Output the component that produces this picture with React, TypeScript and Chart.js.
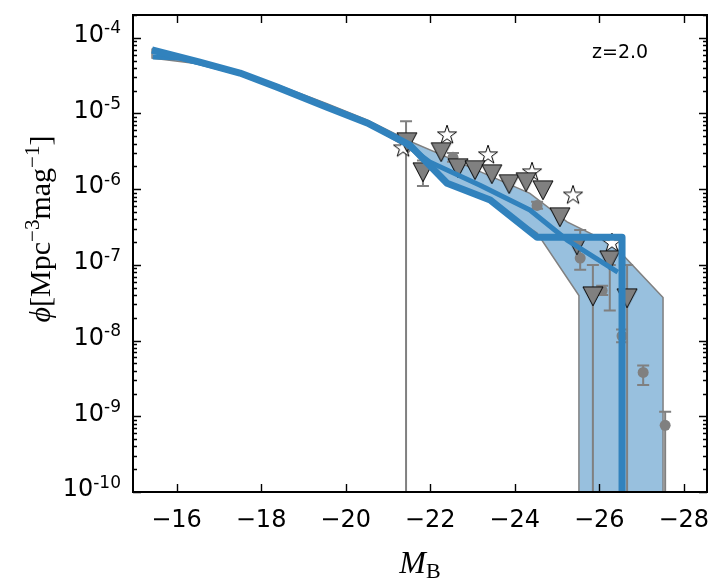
import React, { useEffect, useRef } from 'react';
import { Chart, registerables } from 'chart.js';

Chart.register(...registerables);

const WIDTH = 727;
const HEIGHT = 580;

// Best-fit luminosity function (thick line), absolute magnitude vs number density
const fitMag = [-15.42, -16.55, -17.5, -18.38, -19.56, -20.51, -21.52, -22.4, -23.42, -24.53, -26.54, -26.54];
const fitPhi = [6.9e-5, 4.78e-5, 3.42e-5, 2.23e-5, 1.21e-5, 7.5e-6, 3.82e-6, 1.2e-6, 7.2e-7, 2.32e-7, 2.32e-7, 1e-10];

// Model luminosity function (thinner line)
const modelMag = [-15.44, -16.08, -17.5, -18.38, -19.56, -20.51, -21.29, -21.99, -23.18, -24.36, -25.24, -26.44];
const modelPhi = [5.56e-5, 5.4e-5, 3.42e-5, 2.23e-5, 1.21e-5, 7.5e-6, 4.45e-6, 2.28e-6, 1.13e-6, 5.3e-7, 2.13e-7, 8.0e-8];

// Uncertainty band: upper edge (bright to faint), lower edge (bright to faint)
const bandUpperMag = [-15.42, -16.55, -17.5, -18.38, -19.56, -20.51, -21.52, -22.3, -24.36, -25.24, -26.33, -27.51, -27.51];
const bandUpperPhi = [7.2e-5, 5.0e-5, 3.6e-5, 2.4e-5, 1.35e-5, 8.2e-6, 4.3e-6, 2.8e-6, 8.8e-7, 3.7e-7, 1.85e-7, 3.7e-8, 1e-10];
const bandLowerMag = [-15.42, -16.55, -17.5, -18.38, -19.56, -20.51, -21.52, -22.4, -23.42, -24.53, -25.52, -25.52];
const bandLowerPhi = [5.4e-5, 4.5e-5, 3.2e-5, 2.1e-5, 1.15e-5, 7.2e-6, 3.4e-6, 1.15e-6, 6.8e-7, 2.63e-7, 3.94e-8, 1e-10];

// Binned measurements (grey circles) with error bars
const circleMag = [-21.43, -22.54, -24.53, -25.55, -26.07, -26.54, -27.04, -27.56];
const circlePhi = [3.5e-6, 2.64e-6, 6.1e-7, 1.23e-7, 4.6e-8, 1.15e-8, 3.8e-9, 7.6e-10];
const circleLo = [1e-11, 2.3e-6, 5.5e-7, 8.6e-8, 4.0e-8, 9.5e-9, 2.6e-9, 1e-11];
const circleHi = [7.9e-6, 3.0e-6, 6.8e-7, 2.9e-7, 5.3e-8, 1.4e-8, 4.7e-9, 1.15e-9];

// Binned measurements (grey triangles)
const triMag = [-21.45, -21.83, -22.26, -22.66, -23.06, -23.46, -23.87, -24.27, -24.67, -25.07, -25.47, -25.85, -26.25, -26.66];
const triPhi = [4.19e-6, 1.68e-6, 3.09e-6, 1.9e-6, 1.79e-6, 1.58e-6, 1.17e-6, 1.24e-6, 9.7e-7, 4.27e-7, 1.82e-7, 3.85e-8, 1.15e-7, 3.63e-8];
const triLo: (number | null)[] = [null, 1.1e-6, null, null, null, null, null, null, null, null, null, 1e-11, 2.5e-8, 1e-11];
const triHi: (number | null)[] = [null, 2.4e-6, null, null, null, null, null, null, null, null, null, 1.0e-7, 1.0e-7, 1.0e-7];

// Binned measurements (open stars)
const starMag = [-21.36, -22.4, -23.37, -24.41, -25.38, -26.3];
const starPhi = [3.48e-6, 5.18e-6, 2.82e-6, 1.68e-6, 8.3e-7, 1.94e-7];

const xTicks = [-16, -18, -20, -22, -24, -26, -28];
const yDecades = [-10, -9, -8, -7, -6, -5, -4];
const redshiftLabel = 'z=2.0';

const BLUE = '#3182bd';
const BAND = 'rgba(49,130,189,0.5)';
const GREY = '#808080';
const SANS = '"DejaVu Sans", sans-serif';
const SERIF = '"Liberation Serif", "DejaVu Serif", serif';

const BAND_INDEX = 5;

const pts = (mag: number[], phi: number[]) => mag.map((m, i) => ({ x: m, y: phi[i] }));

function bandPolygon() {
  const up = pts(bandUpperMag, bandUpperPhi);
  const lo = pts(bandLowerMag, bandLowerPhi).reverse();
  return [...up, ...lo, up[0]];
}

function triangleMarker(): HTMLCanvasElement {
  const c = document.createElement('canvas');
  c.width = 22;
  c.height = 21;
  const g = c.getContext('2d')!;
  g.beginPath();
  g.moveTo(1, 1);
  g.lineTo(21, 1);
  g.lineTo(11, 20);
  g.closePath();
  g.fillStyle = GREY;
  g.fill();
  g.lineWidth = 1;
  g.strokeStyle = '#000';
  g.stroke();
  return c;
}

function starMarker(): HTMLCanvasElement {
  const c = document.createElement('canvas');
  c.width = 22;
  c.height = 22;
  const g = c.getContext('2d')!;
  const R = 10;
  const r = R * 0.382;
  g.beginPath();
  for (let k = 0; k < 10; k++) {
    const rad = k % 2 === 0 ? R : r;
    const ang = -Math.PI / 2 + (k * Math.PI) / 5;
    const px = 11 + rad * Math.cos(ang);
    const py = 11 + rad * Math.sin(ang);
    if (k === 0) g.moveTo(px, py);
    else g.lineTo(px, py);
  }
  g.closePath();
  g.fillStyle = '#fff';
  g.fill();
  g.lineWidth = 1;
  g.strokeStyle = '#000';
  g.stroke();
  return c;
}

type Part = { t: string; font: string; dy: number };

function measureParts(ctx: CanvasRenderingContext2D, parts: Part[]) {
  let w = 0;
  for (const p of parts) {
    ctx.font = p.font;
    w += ctx.measureText(p.t).width;
  }
  return w;
}

function drawParts(ctx: CanvasRenderingContext2D, parts: Part[], x: number, y: number) {
  let cx = x;
  ctx.textAlign = 'left';
  ctx.textBaseline = 'alphabetic';
  for (const p of parts) {
    ctx.font = p.font;
    ctx.fillText(p.t, cx, y + p.dy);
    cx += ctx.measureText(p.t).width;
  }
}

const errorBars = {
  id: 'errorBars',
  afterDatasetDraw(chart: any, args: any) {
    if (args.index !== BAND_INDEX) return;
    const { ctx, chartArea: a } = chart;
    const xs = chart.scales.x;
    const ys = chart.scales.y;
    ctx.save();
    ctx.beginPath();
    ctx.rect(a.left, a.top, a.right - a.left, a.bottom - a.top);
    ctx.clip();
    ctx.strokeStyle = GREY;
    ctx.lineWidth = 2;
    const bar = (m: number, lo: number | null, hi: number | null) => {
      if (lo == null || hi == null) return;
      const px = xs.getPixelForValue(m);
      const y0 = ys.getPixelForValue(lo);
      const y1 = ys.getPixelForValue(hi);
      ctx.beginPath();
      ctx.moveTo(px, y0);
      ctx.lineTo(px, y1);
      ctx.moveTo(px - 6, y0);
      ctx.lineTo(px + 6, y0);
      ctx.moveTo(px - 6, y1);
      ctx.lineTo(px + 6, y1);
      ctx.stroke();
    };
    circleMag.forEach((m, i) => bar(m, circleLo[i], circleHi[i]));
    triMag.forEach((m, i) => bar(m, triLo[i], triHi[i]));
    ctx.restore();
  },
};

const frame = {
  id: 'frame',
  afterDraw(chart: any) {
    const { ctx, chartArea: a } = chart;
    const xs = chart.scales.x;
    const ys = chart.scales.y;
    ctx.save();
    ctx.strokeStyle = '#000';
    ctx.fillStyle = '#000';

    // ticks pointing inward on all four sides
    ctx.lineWidth = 1.4;
    ctx.beginPath();
    for (const t of xTicks) {
      const px = Math.round(xs.getPixelForValue(t)) + 0.5;
      ctx.moveTo(px, a.bottom);
      ctx.lineTo(px, a.bottom - 8);
      ctx.moveTo(px, a.top);
      ctx.lineTo(px, a.top + 8);
    }
    for (const e of yDecades) {
      const py = Math.round(ys.getPixelForValue(Math.pow(10, e))) + 0.5;
      ctx.moveTo(a.left, py);
      ctx.lineTo(a.left + 8, py);
      ctx.moveTo(a.right, py);
      ctx.lineTo(a.right - 8, py);
      for (let k = 2; k <= 9; k++) {
        const v = k * Math.pow(10, e);
        if (v > ys.max) continue;
        const pm = Math.round(ys.getPixelForValue(v)) + 0.5;
        ctx.moveTo(a.left, pm);
        ctx.lineTo(a.left + 4, pm);
        ctx.moveTo(a.right, pm);
        ctx.lineTo(a.right - 4, pm);
      }
    }
    ctx.stroke();

    // spines
    ctx.lineWidth = 2;
    ctx.strokeRect(a.left, a.top, a.right - a.left, a.bottom - a.top);

    // x tick labels
    ctx.font = `24px ${SANS}`;
    ctx.textAlign = 'center';
    ctx.textBaseline = 'alphabetic';
    for (const t of xTicks) {
      const px = xs.getPixelForValue(t);
      ctx.fillText('\u2212' + Math.abs(t), px, 527);
    }

    // y tick labels: 10 with a raised exponent
    for (const e of yDecades) {
      const py = ys.getPixelForValue(Math.pow(10, e));
      const parts: Part[] = [
        { t: '10', font: `24px ${SANS}`, dy: 0 },
        { t: '-' + Math.abs(e), font: `17px ${SANS}`, dy: -8.6 },
      ];
      const w = measureParts(ctx, parts);
      drawParts(ctx, parts, 121 - w, py + 4.3);
    }

    // x axis title
    const xt: Part[] = [
      { t: 'M', font: `italic 32px ${SERIF}`, dy: 0 },
      { t: 'B', font: `22px ${SERIF}`, dy: 5 },
    ];
    const xw = measureParts(ctx, xt);
    drawParts(ctx, xt, (a.left + a.right) / 2 - xw / 2, 573);

    // y axis title, rotated
    ctx.save();
    ctx.translate(50, 229);
    ctx.rotate(-Math.PI / 2);
    const yt: Part[] = [
      { t: '\u03d5', font: `italic 30px ${SERIF}`, dy: 0 },
      { t: '[Mpc', font: `30px ${SERIF}`, dy: 0 },
      { t: '\u22123', font: `21px ${SERIF}`, dy: -11 },
      { t: 'mag', font: `30px ${SERIF}`, dy: 0 },
      { t: '\u22121', font: `21px ${SERIF}`, dy: -11 },
      { t: ']', font: `30px ${SERIF}`, dy: 0 },
    ];
    const yw = measureParts(ctx, yt);
    drawParts(ctx, yt, -yw / 2, 0);
    ctx.restore();

    // redshift tag
    ctx.font = `19px ${SANS}`;
    ctx.textAlign = 'left';
    ctx.fillText(redshiftLabel, 592, 58);

    ctx.restore();
  },
};

export default function App() {
  const ref = useRef<HTMLCanvasElement | null>(null);

  useEffect(() => {
    const canvas = ref.current;
    if (!canvas) return;
    const tri = triangleMarker();
    const star = starMarker();
    const chart = new Chart(canvas, {
      type: 'line',
      data: {
        datasets: [
          {
            label: 'fit',
            data: pts(fitMag, fitPhi),
            borderColor: BLUE,
            borderWidth: 7,
            borderJoinStyle: 'round',
            borderCapStyle: 'butt',
            pointRadius: 0,
            fill: false,
            tension: 0,
            order: 0,
            clip: 0,
          },
          {
            label: 'model',
            data: pts(modelMag, modelPhi),
            borderColor: BLUE,
            borderWidth: 5,
            borderJoinStyle: 'round',
            borderCapStyle: 'butt',
            pointRadius: 0,
            fill: false,
            tension: 0,
            order: 1,
            clip: 0,
          },
          {
            label: 'triangles',
            data: pts(triMag, triPhi),
            showLine: false,
            pointStyle: tri,
            pointRadius: 10,
            order: 2,
          },
          {
            label: 'stars',
            data: pts(starMag, starPhi),
            showLine: false,
            pointStyle: star,
            pointRadius: 10,
            order: 3,
          },
          {
            label: 'circles',
            data: pts(circleMag, circlePhi),
            showLine: false,
            pointStyle: 'circle',
            pointRadius: 5.5,
            pointBackgroundColor: GREY,
            pointBorderColor: GREY,
            pointBorderWidth: 0,
            order: 4,
          },
          {
            label: 'band',
            data: bandPolygon(),
            borderColor: GREY,
            borderWidth: 1.5,
            backgroundColor: BAND,
            fill: 'shape',
            pointRadius: 0,
            tension: 0,
            order: 5,
            clip: 0,
          },
        ],
      },
      options: {
        animation: false,
        responsive: false,
        devicePixelRatio: 1,
        layout: { padding: { left: 133, right: 20, top: 15, bottom: 88 } },
        plugins: { legend: { display: false }, tooltip: { enabled: false } },
        events: [],
        scales: {
          x: {
            type: 'linear',
            min: -28.55,
            max: -14.97,
            reverse: true,
            display: false,
          },
          y: {
            type: 'logarithmic',
            min: 1e-10,
            max: 2e-4,
            display: false,
          },
        },
      },
      plugins: [errorBars, frame],
    } as any);
    return () => chart.destroy();
  }, []);

  return (
    <div style={{ position: 'fixed', left: 0, top: 0, width: WIDTH, height: HEIGHT, background: '#fff' }}>
      <canvas ref={ref} width={WIDTH} height={HEIGHT} style={{ width: WIDTH, height: HEIGHT, display: 'block' }} />
    </div>
  );
}
